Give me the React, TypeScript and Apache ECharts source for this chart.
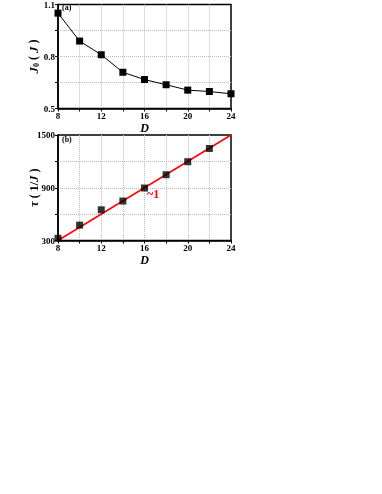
import React, { useEffect, useRef } from "react";
import * as echarts from "echarts";

const dValues = [8, 10, 12, 14, 16, 18, 20, 22, 24];
const j0Values = [1.05, 0.889, 0.81, 0.709, 0.667, 0.637, 0.606, 0.598, 0.585];
const tauD = [8, 10, 12, 14, 16, 18, 20, 22];
const tauValues = [325, 475, 649, 749, 897, 1048, 1196, 1347];
const fitLine = [[8, 300], [24, 1500]];

const FONT = "'Liberation Serif', 'Times New Roman', serif";

export default function App() {
  const ref = useRef<HTMLDivElement>(null);
  useEffect(() => {
    if (!ref.current) return;
    const chart = echarts.init(ref.current, undefined, { renderer: "svg" });
    const gridW = 173;
    const gridH = 105.5;
    const axisCommon = (min: number, max: number, interval: number) => ({
      min,
      max,
      interval,
      nameMoveOverlap: false,
      axisLine: { show: true, onZero: false, lineStyle: { color: "#000", width: 1.5 } },
      axisTick: { show: true, inside: false, length: 3, lineStyle: { color: "#000", width: 1 } },
      axisLabel: {
        fontFamily: FONT,
        fontWeight: "bold",
        fontSize: 9,
        lineHeight: 9,
        color: "#000",
        margin: 3,
        formatter: (v: number, i: number) => (i % 2 === 0 ? String(v) : ""),
      },
      splitLine: { show: true, showMinLine: false, showMaxLine: false, lineStyle: { color: "#bbb", type: "dotted", width: 1 } },
    });
    const xName = {
      name: "D",
      nameLocation: "middle",
      nameGap: 13.5,
      nameTextStyle: { fontFamily: FONT, fontWeight: "bold", fontStyle: "italic", fontSize: 12, lineHeight: 12, color: "#000" },
    };
    chart.setOption({
      animation: false,
      grid: [
        { left: 58, top: 3, width: gridW, height: gridH, show: true, borderColor: "#000", borderWidth: 1.5, backgroundColor: "transparent" },
        { left: 58, top: 135, width: gridW, height: gridH, show: true, borderColor: "#000", borderWidth: 1.5, backgroundColor: "transparent" },
      ],
      xAxis: [
        { type: "value", gridIndex: 0, ...axisCommon(8, 24, 2), ...xName },
        { type: "value", gridIndex: 1, ...axisCommon(8, 24, 2), ...xName },
      ],
      yAxis: [
        {
          type: "value",
          gridIndex: 0,
          ...axisCommon(0.5, 1.1, 0.15),
          name: "{i|J}{s|0}{n| ( }{i|J}{n| )}",
          nameLocation: "middle",
          nameRotate: 90,
          nameGap: 18,
          nameTextStyle: {
            fontFamily: FONT,
            color: "#000",
            rich: {
              i: { fontFamily: FONT, fontWeight: "bold", fontStyle: "italic", fontSize: 13, color: "#000" },
              s: { fontFamily: FONT, fontWeight: "bold", fontSize: 8, color: "#000", verticalAlign: "bottom", padding: [6, 0, 0, 0] },
              n: { fontFamily: FONT, fontWeight: "bold", fontSize: 12, color: "#000" },
            },
          },
        },
        {
          type: "value",
          gridIndex: 1,
          ...axisCommon(300, 1500, 300),
          name: "{i|τ}{n| ( 1/}{i|J}{n| )}",
          nameLocation: "middle",
          nameRotate: 90,
          nameGap: 18,
          nameTextStyle: {
            fontFamily: FONT,
            color: "#000",
            rich: {
              i: { fontFamily: FONT, fontWeight: "bold", fontStyle: "italic", fontSize: 13, color: "#000" },
              n: { fontFamily: FONT, fontWeight: "bold", fontSize: 12, color: "#000" },
            },
          },
        },
      ],
      series: [
        {
          type: "line",
          xAxisIndex: 0,
          yAxisIndex: 0,
          data: dValues.map((d, i) => [d, j0Values[i]]),
          symbol: "rect",
          symbolSize: 7,
          showAllSymbol: true,
          itemStyle: { color: "#000" },
          lineStyle: { color: "#000", width: 1 },
          z: 3,
        },
        {
          type: "line",
          xAxisIndex: 1,
          yAxisIndex: 1,
          data: fitLine,
          showSymbol: false,
          symbol: "none",
          lineStyle: { color: "#ff0000", width: 1.5 },
          z: 2,
        },
        {
          type: "scatter",
          xAxisIndex: 1,
          yAxisIndex: 1,
          data: tauD.map((d, i) => [d, tauValues[i]]),
          symbol: "rect",
          symbolSize: 7,
          itemStyle: { color: "#000" },
          z: 3,
        },
      ],
      graphic: [
        { type: "text", left: 62, top: 3, style: { text: "(a)", fontFamily: FONT, fontWeight: "bold", fontSize: 8, fill: "#000" } },
        { type: "text", left: 62, top: 135, style: { text: "(b)", fontFamily: FONT, fontWeight: "bold", fontSize: 8, fill: "#000" } },
        { type: "text", left: 147, top: 188, style: { text: "~1", fontFamily: FONT, fontWeight: "bold", fontSize: 12, fill: "#ff0000" } },
      ],
    });
    return () => chart.dispose();
  }, []);
  return <div ref={ref} style={{ position: "fixed", left: 0, top: 0, width: 382, height: 494 }} />;
}
